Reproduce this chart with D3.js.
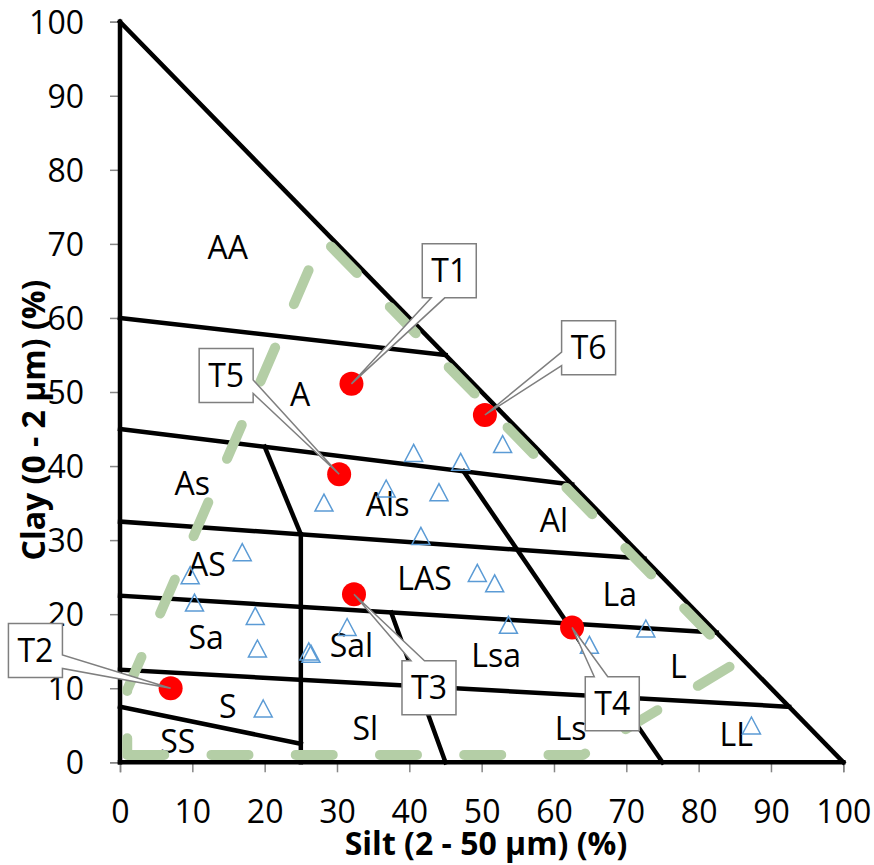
<!DOCTYPE html>
<html>
<head>
<meta charset="utf-8">
<script src="https://cdn.jsdelivr.net/npm/d3@7/dist/d3.min.js"></script>
<style>
  body { margin: 0; background: #fff; }
  svg text { font-family: "Open Sans", "Noto Sans", sans-serif; }
</style>
</head>
<body>
<div id="chart"></div>
<script>
// texture triangle: silt on x, clay on y
const ticks = [0, 10, 20, 30, 40, 50, 60, 70, 80, 90, 100];

// class boundaries [silt1, clay1, silt2, clay2]
const boundaries = [
    [0, 0, 100, 0],
    [0, 0, 0, 100],
    [0, 100, 100, 0],
    [0, 60, 45, 55],
    [0, 45, 62.5, 37.5],
    [0, 32.5, 72.5, 27.5],
    [0, 22.5, 82.5, 17.5],
    [0, 12.5, 92.5, 7.5],
    [0, 7.5, 25, 2.5],
    [25, 0, 25, 30.8],
    [25, 30.8, 20, 42.6],
    [45, 0, 37.5, 20.2],
    [75, 0, 47.5, 39.3]
];

// class names and where they sit
const classNames = ["AA", "A", "As", "Als", "Al", "AS", "LAS", "La", "Sa", "Sal", "Lsa", "L", "S", "Sl", "Ls", "LL", "SS"];
const classSilt = [14.9, 24.9, 10.0, 37.0, 60.0, 12.0, 42.1, 69.1, 11.9, 32.0, 52.0, 77.2, 14.9, 33.9, 62.3, 85.2, 8.0];
const classClay = [69.5, 49.7, 37.7, 34.8, 32.7, 26.7, 24.8, 22.7, 16.8, 15.8, 14.4, 12.9, 7.5, 4.5, 4.5, 3.8, 2.8];

// envelope of the samples (green dashes)
const envSilt = [1, 64, 85.3, 28, 1, 1];
const envClay = [1, 1, 13.5, 70.8, 9.8, 1];

// samples (blue triangles)
const sampleSilt = [9.7, 10.3, 18.7, 19.0, 26.1, 26.4, 31.4, 19.8, 40.6, 47.1, 52.9, 36.8, 44.1, 28.2, 41.6, 16.9, 49.4, 51.8, 53.7, 64.9, 72.7, 87.3];
const sampleClay = [25.2, 21.5, 19.7, 15.3, 14.9, 14.6, 18.2, 7.2, 41.7, 40.5, 42.9, 36.9, 36.4, 35.0, 30.5, 28.3, 25.5, 24.1, 18.5, 15.8, 18.0, 4.9];

// labelled points (red)
const pointNames = ["T1", "T2", "T3", "T4", "T5", "T6"];
const pointSilt = [32.0, 7.0, 32.35, 62.5, 30.3, 50.45];
const pointClay = [51.1, 10.0, 22.7, 18.2, 38.9, 46.9];

// callout box offsets from the point, px
const calloutDx = [97.8, -135.2, 75, 40.2, -113, 103.7];
const calloutDy = [-113, -37.8, 93.5, 76.2, -98.8, -67.3];

const width = 874, height = 865;

const svg = d3.select("#chart")
    .append("svg")
    .attr("width", width)
    .attr("height", height);

svg.append("rect").attr("width", width).attr("height", height).attr("fill", "#fff");

const x = d3.scaleLinear().domain([0, 100]).range([120, 843.3]);
const y = d3.scaleLinear().domain([0, 100]).range([762.3, 21.7]);

// axes
const yAxis = svg.append("g")
    .attr("transform", `translate(${x(0)},0)`)
    .call(d3.axisLeft(y).tickValues(ticks).tickSize(10).tickPadding(26).tickFormat(d3.format("d")));

const xAxis = svg.append("g")
    .attr("transform", `translate(0,${y(0)})`)
    .call(d3.axisBottom(x).tickValues(ticks).tickSize(10).tickPadding(28).tickFormat(d3.format("d")));

[xAxis, yAxis].forEach(g => {
    g.select(".domain").attr("stroke", "#868686").attr("stroke-width", 1.5);
    g.selectAll(".tick line").attr("stroke", "#868686").attr("stroke-width", 1.5);
    g.selectAll(".tick text").attr("font-size", 32).attr("fill", "#000")
        .attr("font-family", "'Open Sans', 'Noto Sans', sans-serif");
});
yAxis.selectAll(".tick text").attr("dy", "0.36em");

// axis titles
svg.append("text")
    .attr("x", 486)
    .attr("y", 855)
    .attr("text-anchor", "middle")
    .attr("font-size", 32)
    .attr("font-weight", "bold")
    .text("Silt (2 - 50 µm) (%)");

svg.append("text")
    .attr("transform", "translate(45,420) rotate(-90)")
    .attr("text-anchor", "middle")
    .attr("font-size", 32)
    .attr("font-weight", "bold")
    .text("Clay (0 - 2 µm) (%)");

// class boundaries
svg.append("g")
    .selectAll("line")
    .data(boundaries)
    .enter().append("line")
    .attr("x1", d => x(d[0]))
    .attr("y1", d => y(d[1]))
    .attr("x2", d => x(d[2]))
    .attr("y2", d => y(d[3]))
    .attr("stroke", "#000")
    .attr("stroke-width", 4.5)
    .attr("stroke-linecap", "square");

// class labels
svg.append("g")
    .selectAll("text")
    .data(classNames)
    .enter().append("text")
    .attr("x", (d, i) => x(classSilt[i]))
    .attr("y", (d, i) => y(classClay[i]))
    .attr("dy", "0.36em")
    .attr("text-anchor", "middle")
    .attr("font-size", 32)
    .text(d => d);

// envelope
const envLine = d3.line()
    .x(d => x(d[0]))
    .y(d => y(d[1]));

svg.append("path")
    .datum(envSilt.map((s, i) => [s, envClay[i]]))
    .attr("d", envLine)
    .attr("fill", "none")
    .attr("stroke", "#B4CEA6")
    .attr("stroke-width", 10)
    .attr("stroke-linecap", "round")
    .attr("stroke-linejoin", "round")
    .attr("stroke-dasharray", "37 47.25");

// samples
const tri = d3.symbol().type(d3.symbolTriangle).size(150);
svg.append("g")
    .selectAll("path")
    .data(sampleSilt)
    .enter().append("path")
    .attr("d", "M0,-9L9,8L-9,8Z")
    .attr("transform", (d, i) => `translate(${x(d)},${y(sampleClay[i])})`)
    .attr("fill", "none")
    .attr("stroke", "#5B9BD5")
    .attr("stroke-width", 1.5);

// red points
svg.append("g")
    .selectAll("circle")
    .data(pointSilt)
    .enter().append("circle")
    .attr("cx", d => x(d))
    .attr("cy", (d, i) => y(pointClay[i]))
    .attr("r", 12)
    .attr("fill", "#FF0000");

// callouts
function calloutPath(tx, ty, cx, cy, w, h) {
    const l = cx - w / 2, r = cx + w / 2, t = cy - h / 2, b = cy + h / 2;
    const dx = (tx - cx) / w, dy = (ty - cy) / h;
    let pts;
    if (Math.abs(dx) > Math.abs(dy)) {
        const y1 = ty < cy ? t + h / 6 : t + 7 * h / 12;
        const y2 = ty < cy ? t + 5 * h / 12 : t + 5 * h / 6;
        if (dx < 0) pts = [[l, t], [r, t], [r, b], [l, b], [l, y2], [tx, ty], [l, y1]];
        else pts = [[l, t], [r, t], [r, y1], [tx, ty], [r, y2], [r, b], [l, b]];
    } else {
        const x1 = tx < cx ? l + w / 6 : l + 7 * w / 12;
        const x2 = tx < cx ? l + 5 * w / 12 : l + 5 * w / 6;
        if (dy < 0) pts = [[l, t], [x1, t], [tx, ty], [x2, t], [r, t], [r, b], [l, b]];
        else pts = [[l, t], [r, t], [r, b], [x2, b], [tx, ty], [x1, b], [l, b]];
    }
    return d3.line()(pts) + "Z";
}

const callouts = svg.append("g")
    .selectAll("g")
    .data(pointNames)
    .enter().append("g");

callouts.append("path")
    .attr("d", (d, i) => {
        const tx = x(pointSilt[i]), ty = y(pointClay[i]);
        return calloutPath(tx, ty, tx + calloutDx[i], ty + calloutDy[i], 54, 54);
    })
    .attr("fill", "#fff")
    .attr("stroke", "#7F7F7F")
    .attr("stroke-width", 1.5);

callouts.append("text")
    .attr("x", (d, i) => x(pointSilt[i]) + calloutDx[i])
    .attr("y", (d, i) => y(pointClay[i]) + calloutDy[i])
    .attr("dy", "0.36em")
    .attr("text-anchor", "middle")
    .attr("font-size", 32)
    .text(d => d);
</script>
</body>
</html>
